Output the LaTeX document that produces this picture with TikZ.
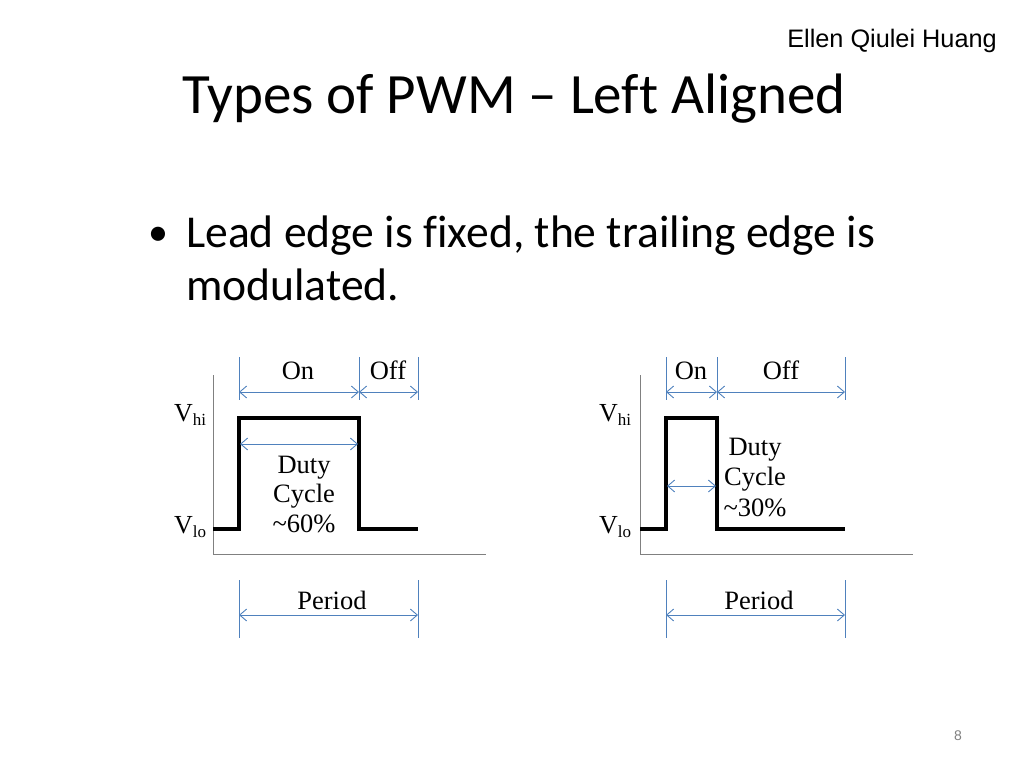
\documentclass[tikz,border=0pt]{standalone}
\usepackage{fontspec}
\setmainfont[Ligatures=NoCommon]{Carlito}
\newfontfamily\dserif{Liberation Serif}
\newfontfamily\arialf{Liberation Sans}
\usetikzlibrary{arrows.meta}
\definecolor{dimblue}{RGB}{79,129,189}
\definecolor{axisgrey}{RGB}{128,128,128}
\tikzset{
  wave/.style={line width=4pt, line join=miter, black},
  axisline/.style={draw=axisgrey, line width=1pt},
  tickline/.style={draw=dimblue, line width=0.9pt},
  dimarrow/.style={draw=dimblue, line width=0.9pt, {Straight Barb[length=7pt,width=12pt]}-{Straight Barb[length=7pt,width=12pt]}},
  lbl/.style={font=\dserif\fontsize{26.5}{29}\selectfont, inner sep=0pt},
  vlbl/.style={font=\dserif\fontsize{26}{29}\selectfont, inner sep=0pt},
}
\begin{document}
\begin{tikzpicture}[x=1pt,y=-1pt]
\useasboundingbox (0,0) rectangle (1024,768);
% header texts
\node[anchor=base east, font=\arialf\fontsize{25.3}{28}\selectfont, inner sep=0pt] (author) at (997,48) {Ellen Qiulei Huang};
\node[anchor=base west, font=\fontsize{57}{62}\selectfont, inner sep=0pt] (title) at (182,113) {Types of PWM – Left Aligned};
\node[anchor=base west, font=\fontsize{40}{55}\selectfont, inner sep=0pt] (bullet) at (148,245) {•};
\node[anchor=base west, font=\fontsize{45.6}{55}\selectfont, inner sep=0pt, align=left] (b1) at (186,247) {Lead edge is fixed, the trailing edge is};
\node[anchor=base west, font=\fontsize{45.6}{55}\selectfont, inner sep=0pt] (b2) at (186,300) {modulated.};
\node[anchor=base, font=\arialf\fontsize{14}{16}\selectfont, text=axisgrey, inner sep=0pt] (pg) at (958,740) {8};

% ===== Left diagram =====
\coordinate (Lax1) at (213,375);
\coordinate (Lax0) at (213,554);
\coordinate (Lax2) at (486,554);
\draw[axisline] (Lax1) -- (Lax0) -- (Lax2);
\coordinate (Lw0) at (213,529);
\coordinate (Lw1) at (239,529);
\coordinate (Lw2) at (239,418);
\coordinate (Lw3) at (359,418);
\coordinate (Lw4) at (359,529);
\coordinate (Lw5) at (418,529);
\draw[wave] (Lw0) -- (Lw1) -- (Lw2) -- (Lw3) -- (Lw4) -- (Lw5);
% top ticks
\coordinate (Lt1a) at (239,357); \coordinate (Lt1b) at (239,400);
\coordinate (Lt2a) at (359,357); \coordinate (Lt2b) at (359,400);
\coordinate (Lt3a) at (418,357); \coordinate (Lt3b) at (418,400);
\draw[tickline] (Lt1a) -- (Lt1b);
\draw[tickline] (Lt2a) -- (Lt2b);
\draw[tickline] (Lt3a) -- (Lt3b);
\coordinate (LonA) at (239,392); \coordinate (LonB) at (359,392); \coordinate (LoffB) at (418,392);
\draw[dimarrow] (LonA) -- (LonB);
\draw[dimarrow] (LonB) -- (LoffB);
\coordinate (LdA) at (240,444); \coordinate (LdB) at (358,444);
\draw[dimarrow] (LdA) -- (LdB);
% period
\coordinate (Lp1a) at (239,580); \coordinate (Lp1b) at (239,638);
\coordinate (Lp2a) at (418,580); \coordinate (Lp2b) at (418,638);
\draw[tickline] (Lp1a) -- (Lp1b);
\draw[tickline] (Lp2a) -- (Lp2b);
\coordinate (LpA) at (239,615); \coordinate (LpB) at (418,615);
\draw[dimarrow] (LpA) -- (LpB);
% labels
\node[lbl, anchor=base] (Lon) at (298,379) {On};
\node[lbl, anchor=base] (Loff) at (388,379) {Off};
\node[lbl, anchor=base] (Lper) at (332,609) {Period};
\node[lbl, anchor=base] (Lduty1) at (304,473) {Duty};
\node[lbl, anchor=base] (Lduty2) at (304,502) {Cycle};
\node[lbl, anchor=base] (Lduty3) at (304,532) {\textasciitilde 60\%};
\node[vlbl, anchor=base] (Lvhi) at (190,421) {V\raisebox{-0.35ex}{\fontsize{17}{18}\selectfont hi}};
\node[vlbl, anchor=base] (Lvlo) at (190,533) {V\raisebox{-0.35ex}{\fontsize{17}{18}\selectfont lo}};

% ===== Right diagram =====
\coordinate (Rax1) at (640,375);
\coordinate (Rax0) at (640,554);
\coordinate (Rax2) at (913,554);
\draw[axisline] (Rax1) -- (Rax0) -- (Rax2);
\coordinate (Rw0) at (640,529);
\coordinate (Rw1) at (666,529);
\coordinate (Rw2) at (666,418);
\coordinate (Rw3) at (717,418);
\coordinate (Rw4) at (717,529);
\coordinate (Rw5) at (845,529);
\draw[wave] (Rw0) -- (Rw1) -- (Rw2) -- (Rw3) -- (Rw4) -- (Rw5);
\coordinate (Rt1a) at (666,357); \coordinate (Rt1b) at (666,400);
\coordinate (Rt2a) at (717,357); \coordinate (Rt2b) at (717,400);
\coordinate (Rt3a) at (845,357); \coordinate (Rt3b) at (845,400);
\draw[tickline] (Rt1a) -- (Rt1b);
\draw[tickline] (Rt2a) -- (Rt2b);
\draw[tickline] (Rt3a) -- (Rt3b);
\coordinate (RonA) at (666,392); \coordinate (RonB) at (717,392); \coordinate (RoffB) at (845,392);
\draw[dimarrow] (RonA) -- (RonB);
\draw[dimarrow] (RonB) -- (RoffB);
\coordinate (RdA) at (667,486); \coordinate (RdB) at (716,486);
\draw[dimarrow] (RdA) -- (RdB);
\coordinate (Rp1a) at (666,580); \coordinate (Rp1b) at (666,638);
\coordinate (Rp2a) at (845,580); \coordinate (Rp2b) at (845,638);
\draw[tickline] (Rp1a) -- (Rp1b);
\draw[tickline] (Rp2a) -- (Rp2b);
\coordinate (RpA) at (666,615); \coordinate (RpB) at (845,615);
\draw[dimarrow] (RpA) -- (RpB);
\node[lbl, anchor=base] (Ron) at (691,379) {On};
\node[lbl, anchor=base] (Roff) at (781,379) {Off};
\node[lbl, anchor=base] (Rper) at (759,609) {Period};
\node[lbl, anchor=base] (Rduty1) at (755,455) {Duty};
\node[lbl, anchor=base] (Rduty2) at (755,485) {Cycle};
\node[lbl, anchor=base] (Rduty3) at (755,516) {\textasciitilde 30\%};
\node[vlbl, anchor=base] (Rvhi) at (615,421) {V\raisebox{-0.35ex}{\fontsize{17}{18}\selectfont hi}};
\node[vlbl, anchor=base] (Rvlo) at (615,533) {V\raisebox{-0.35ex}{\fontsize{17}{18}\selectfont lo}};
\end{tikzpicture}
\end{document}
